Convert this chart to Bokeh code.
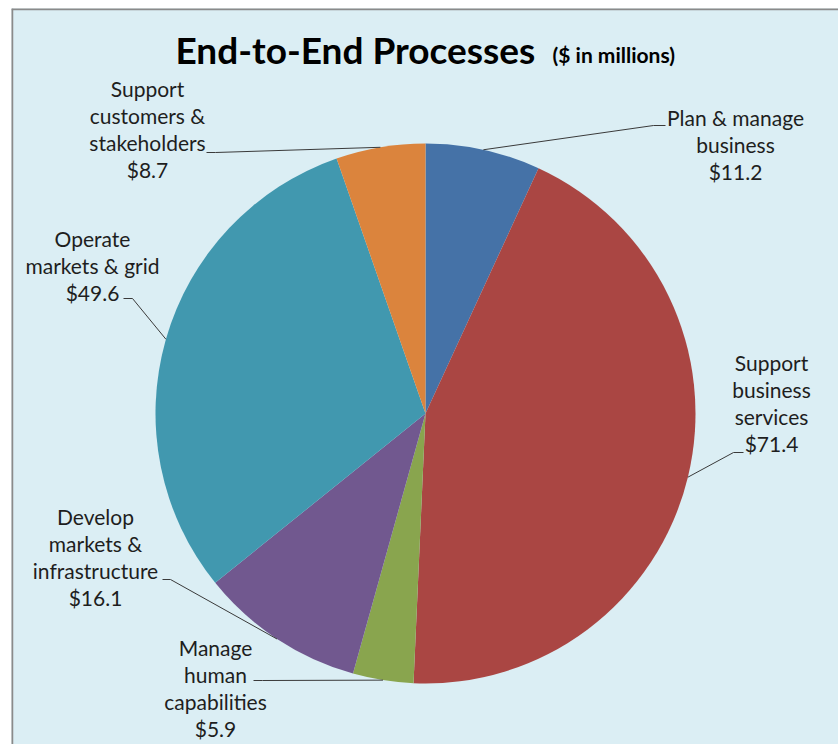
import math
from bokeh.plotting import figure
from bokeh.models import ColumnDataSource, Range1d
from bokeh.core.properties import value
from bokeh.embed import file_html
from bokeh.resources import INLINE

# ---- data ----
categories = ["Plan & manage business", "Support business services",
              "Manage human capabilities", "Develop markets & infrastructure",
              "Operate markets & grid", "Support customers & stakeholders"]
label_lines = [["Plan & manage", "business"],
               ["Support", "business", "services"],
               ["Manage", "human", "capabilities"],
               ["Develop", "markets &", "infrastructure"],
               ["Operate", "markets & grid"],
               ["Support", "customers &", "stakeholders"]]
values = [11.2, 71.4, 5.9, 16.1, 49.6, 8.7]
colors = ["#4572A7", "#AA4643", "#89A54E", "#71588F", "#4198AF", "#DB843D"]
title_text = "End-to-End Processes"
subtitle_text = "($ in millions)"

# ---- layout (pixel coordinates of the picture) ----
LEFT, TOP = 11, 8
W, H = 838 - LEFT, 744 - TOP
def Y(sy):
    return (TOP + H) - sy

CX, CY, R = 425, 413, 270
label_cx = [735, 771, 215, 95, 92, 147]
label_top = [117, 362, 647, 516, 238, 88]
LINE = 27
elbow = [(653, 125), (733, 452), (262, 680), (170, 579), (132, 298), (215, 152)]
lend = [(665, 125), (743, 452), (253, 680), (162, 579), (123, 298), (206, 152)]

BG = "#DBEEF4"
TXT = "#1e1e1e"
FONT = "Lato"

p = figure(width=W, height=H, output_backend="svg", toolbar_location=None,
           x_range=Range1d(LEFT, LEFT + W), y_range=Range1d(0, H),
           min_border=0, margin=(TOP, 0, 0, LEFT))
p.axis.visible = False
p.grid.visible = False
p.background_fill_color = BG
p.border_fill_color = BG
p.outline_line_color = None

# chart border (only top and left edges are inside the picture)
p.segment(x0=[LEFT + 0.5, LEFT], y0=[0, H - 0.5], x1=[LEFT + 0.5, LEFT + W],
          y1=[H, H - 0.5], line_color="#8a8a8a", line_width=2.5)

# ---- pie ----
total = sum(values)
starts, ends, mids = [], [], []
cum = 0.0
for v in values:
    a0 = math.pi / 2 - 2 * math.pi * cum / total
    cum += v
    a1 = math.pi / 2 - 2 * math.pi * cum / total
    starts.append(a1)
    ends.append(a0)
    mids.append((a0 + a1) / 2)

src = ColumnDataSource(dict(cat=categories, val=values, color=colors,
                            start=starts, end=ends))
p.wedge(x=CX, y=Y(CY), radius=R, start_angle="start", end_angle="end",
        direction="anticlock", fill_color="color", line_color=None, source=src)

# ---- leader lines ----
xs, ys = [], []
for m, (ex, ey), (tx, ty) in zip(mids, elbow, lend):
    px = CX + R * math.cos(m)
    py = Y(CY) + R * math.sin(m)
    xs.append([px, ex, tx])
    ys.append([py, Y(ey), Y(ty)])
p.multi_line(xs=xs, ys=ys, line_color="#3a3a3a", line_width=1)

# ---- labels ----
tx_, ty_, tt_ = [], [], []
for lines, v, cx, top in zip(label_lines, values, label_cx, label_top):
    allines = lines + [f"${v:.1f}"]
    for i, s in enumerate(allines):
        tx_.append(cx)
        ty_.append(Y(top + i * LINE))
        tt_.append(s)
p.text(x=tx_, y=ty_, text=tt_, text_font=value(FONT), text_font_size="21px",
       text_align="center", text_baseline="middle", text_color=TXT)

# ---- title ----
p.text(x=[175], y=[Y(49)], text=[title_text], text_font=value(FONT),
       text_font_size="37px", text_font_style="bold", text_align="left",
       text_baseline="middle", text_color="#000000")
p.text(x=[552], y=[Y(54)], text=[subtitle_text], text_font=value(FONT),
       text_font_size="21px", text_font_style="bold", text_align="left",
       text_baseline="middle", text_color="#000000")

open("out.html", "w").write(file_html(p, INLINE))
